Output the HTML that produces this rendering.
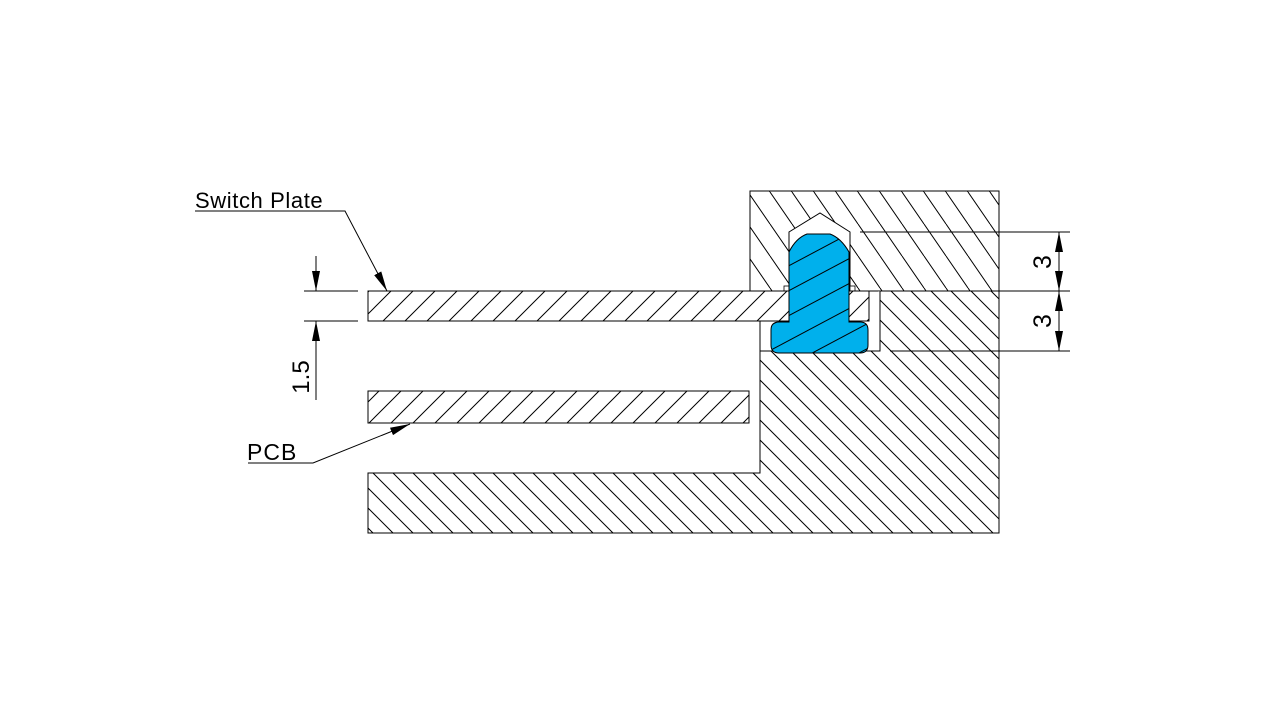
<!DOCTYPE html>
<html><head><meta charset="utf-8"><style>
html,body{margin:0;padding:0;background:#fff;}
svg{display:block;}
text{font-family:"Liberation Sans","Noto Sans CJK JP",sans-serif;fill:#000;}
</style></head><body>
<svg width="1280" height="720" viewBox="0 0 1280 720" xmlns="http://www.w3.org/2000/svg">
<defs>
<pattern id="back" patternUnits="userSpaceOnUse" width="20" height="20">
<path d="M-5,-5 L25,25 M-5,15 L5,25 M15,-5 L25,5" stroke="#000" stroke-width="1"/>
</pattern>
<pattern id="steep" patternUnits="userSpaceOnUse" width="22" height="32">
<path d="M0,0 L22,32 M-22,0 L0,32 M22,0 L44,32" stroke="#000" stroke-width="1"/>
</pattern>
<pattern id="fwd" patternUnits="userSpaceOnUse" width="22" height="22">
<path d="M-5,27 L27,-5 M-5,5 L5,-5 M17,27 L27,17" stroke="#000" stroke-width="1"/>
</pattern>
<pattern id="key" patternUnits="userSpaceOnUse" width="40" height="22" patternTransform="rotate(-28)">
<rect width="40" height="22" fill="#00b0ec"/>
<path d="M0,11 L40,11" stroke="#000" stroke-width="1"/>
</pattern>
<marker id="ar" viewBox="0 0 20 8" refX="20" refY="4" markerWidth="20" markerHeight="8" markerUnits="userSpaceOnUse" orient="auto">
<path d="M0,0 L20,4 L0,8 z" fill="#000"/>
</marker>
</defs>

<path d="M750,191 L999,191 L999,291 L750,291 Z" fill="url(#steep)" stroke="#000" stroke-width="1"/>
<path d="M789,291 L789,232 L820,213 L850,232 L850,291 Z" fill="#fff" stroke="#000" stroke-width="1"/>
<rect x="784" y="286" width="5" height="5" fill="#fff" stroke="#000" stroke-width="0.8"/>
<rect x="850" y="286" width="5" height="5" fill="#fff" stroke="#000" stroke-width="0.8"/>

<path d="M760,351 L880,351 L880,291 L999,291 L999,533 L368,533 L368,473 L760,473 Z" fill="url(#back)" stroke="#000" stroke-width="1"/>
<path d="M760,321 L760,351 L880,351 L880,291" fill="#fff" stroke="#000" stroke-width="1"/>

<rect x="368" y="291" width="501" height="30" fill="url(#fwd)" stroke="#000" stroke-width="1"/>
<rect x="368" y="391" width="381" height="32" fill="url(#fwd)" stroke="#000" stroke-width="1"/>

<path d="M789,322 L789,252 Q796,238 807,234 L830,234 Q841,238 849,252 L849,322 L860,322 Q868,322 868,330 L868,345 Q868,353 860,353 L779,353 Q771,353 771,345 L771,330 Q771,322 779,322 Z" fill="url(#key)" stroke="#000" stroke-width="1"/>

<g stroke="#000" stroke-width="1">
<line x1="860" y1="232" x2="1070" y2="232"/>
<line x1="999" y1="291" x2="1070" y2="291"/>
<line x1="890" y1="351" x2="1070" y2="351"/>
<line x1="1059" y1="262" x2="1059" y2="232" marker-end="url(#ar)"/>
<line x1="1059" y1="262" x2="1059" y2="291" marker-end="url(#ar)"/>
<line x1="1059" y1="321" x2="1059" y2="291" marker-end="url(#ar)"/>
<line x1="1059" y1="321" x2="1059" y2="351" marker-end="url(#ar)"/>
</g>
<text x="0" y="0" font-size="25" transform="translate(1051,262) rotate(-90)" text-anchor="middle">3</text>
<text x="0" y="0" font-size="25" transform="translate(1051,321) rotate(-90)" text-anchor="middle">3</text>

<g stroke="#000" stroke-width="1">
<line x1="304" y1="291" x2="358" y2="291"/>
<line x1="304" y1="321" x2="358" y2="321"/>
<line x1="316" y1="256" x2="316" y2="291" marker-end="url(#ar)"/>
<line x1="316" y1="400" x2="316" y2="321" marker-end="url(#ar)"/>
</g>
<text x="0" y="0" font-size="24" transform="translate(309,377) rotate(-90)" text-anchor="middle">1.5</text>

<g stroke="#000" stroke-width="1" fill="none">
<polyline points="195,211 345,211 387,291" marker-end="url(#ar)"/>
<polyline points="248,463 313,463 410,424" marker-end="url(#ar)"/>
</g>
<text x="195" y="208" font-size="22" letter-spacing="0.6">Switch Plate</text>
<text x="247" y="460" font-size="23" letter-spacing="1">PCB</text>
</svg>
</body></html>
